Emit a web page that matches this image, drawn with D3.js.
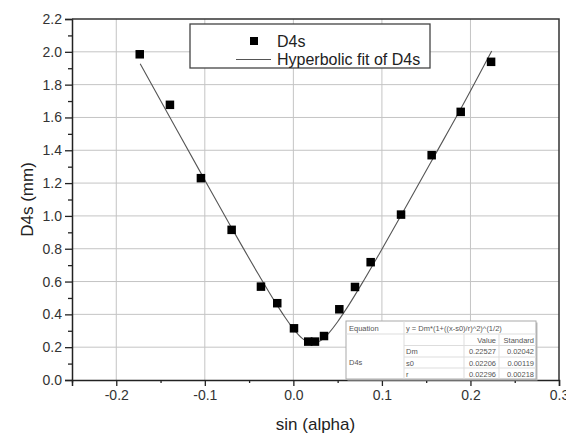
<!DOCTYPE html>
<html>
<head>
<meta charset="utf-8">
<script src="https://cdn.jsdelivr.net/npm/d3@7"></script>
<style>
  body { margin: 0; background: #fff; }
  svg { display: block; font-family: "Liberation Sans", Arial, sans-serif; }
</style>
</head>
<body>
<svg id="chart"></svg>
<script>
var sinAlpha = [-0.1735, -0.1394, -0.1044, -0.0697, -0.0366, -0.0182, 0.0007, 0.0168, 0.0244,
                0.0346, 0.0519, 0.0696, 0.0873, 0.1216, 0.1562, 0.1890, 0.2233];
var d4s = [1.985, 1.677, 1.230, 0.915, 0.569, 0.468, 0.315, 0.234, 0.234,
           0.268, 0.431, 0.567, 0.718, 1.008, 1.370, 1.634, 1.939];

// fit curve
var fitX = [-0.173, -0.14, -0.10, -0.07, -0.04, -0.02, -0.01, 0.0, 0.01, 0.02, 0.03,
            0.04, 0.05, 0.06, 0.08, 0.10, 0.13, 0.16, 0.19, 0.224];
var fitY = [1.927, 1.606, 1.218, 0.930, 0.649, 0.470, 0.387, 0.312, 0.254, 0.226, 0.238,
            0.286, 0.355, 0.435, 0.611, 0.797, 1.083, 1.372, 1.662, 2.005];

var xTicks = [-0.2, -0.1, 0.0, 0.1, 0.2, 0.3];
var yTicks = [0.0, 0.2, 0.4, 0.6, 0.8, 1.0, 1.2, 1.4, 1.6, 1.8, 2.0, 2.2];

var legendLabels = ["D4s", "Hyperbolic fit of D4s"];
var equationText = "y = Dm*(1+((x-s0)/r)^2)^(1/2)";
var paramNames = ["Dm", "s0", "r"];
var paramValues = ["0.22527", "0.02206", "0.02296"];
var paramErrors = ["0.02042", "0.00119", "0.00218"];

(function () {
  var W = 566, H = 433;
  var margin = {top: 19, right: 7, bottom: 53, left: 72};
  var width = W - margin.left - margin.right,
      height = H - margin.top - margin.bottom;

  var svg = d3.select("#chart").attr("width", W).attr("height", H);
  var g = svg.append("g").attr("transform", "translate(" + margin.left + "," + margin.top + ")");

  var x = d3.scaleLinear().domain([-0.25, 0.3]).range([0, width]);
  var y = d3.scaleLinear().domain([0, 2.2]).range([height, 0]);

  // plain hyphen for negatives, like the original
  var fmt = function (d) { return d.toFixed(1); };

  // grid
  g.append("g").selectAll("line")
    .data(xTicks.filter(function (d) { return d < 0.3; }))
    .enter().append("line")
    .attr("x1", function (d) { return x(d); }).attr("x2", function (d) { return x(d); })
    .attr("y1", 0).attr("y2", height)
    .style("stroke", "#c4c4c4").style("stroke-width", 1);
  g.append("g").selectAll("line")
    .data(yTicks.filter(function (d) { return d > 0 && d < 2.2; }))
    .enter().append("line")
    .attr("y1", function (d) { return y(d); }).attr("y2", function (d) { return y(d); })
    .attr("x1", 0).attr("x2", width)
    .style("stroke", "#c4c4c4").style("stroke-width", 1);

  // minor ticks
  var xMinor = d3.range(-0.25, 0.3001, 0.1).map(function (d) { return +d.toFixed(2); });
  var yMinor = d3.range(0.1, 2.2, 0.2).map(function (d) { return +d.toFixed(1); });

  g.append("g")
    .attr("transform", "translate(0," + height + ")")
    .call(d3.axisBottom(x).tickValues(xTicks).tickFormat(fmt).tickSize(6).tickPadding(4));
  g.append("g")
    .attr("transform", "translate(0," + height + ")")
    .call(d3.axisBottom(x).tickValues(xMinor).tickFormat("").tickSize(3))
    .select(".domain").remove();

  g.append("g")
    .call(d3.axisLeft(y).tickValues(yTicks).tickFormat(fmt).tickSize(7).tickPadding(3));
  g.append("g")
    .call(d3.axisLeft(y).tickValues(yMinor).tickFormat("").tickSize(4))
    .select(".domain").remove();

  g.selectAll(".tick line").style("stroke", "#222").style("stroke-width", 1.3);
  g.selectAll(".domain").style("stroke", "#222").style("stroke-width", 1.5);
  g.selectAll(".tick text").style("font-size", "14px").style("fill", "#333");

  // top and right frame
  g.append("path")
    .attr("d", "M0,0H" + width + "V" + height)
    .style("fill", "none").style("stroke", "#333").style("stroke-width", 1.5);

  // fit curve
  var line = d3.line()
    .curve(d3.curveMonotoneX)
    .x(function (d) { return x(d[0]); })
    .y(function (d) { return y(d[1]); });
  g.append("path")
    .datum(d3.zip(fitX, fitY))
    .attr("d", line)
    .style("fill", "none").style("stroke", "#555").style("stroke-width", 1.1);

  // data points
  var s = 8.5;
  g.selectAll(".pt")
    .data(d3.zip(sinAlpha, d4s))
    .enter().append("rect")
    .attr("class", "pt")
    .attr("x", function (d) { return x(d[0]) - s / 2; })
    .attr("y", function (d) { return y(d[1]) - s / 2; })
    .attr("width", s).attr("height", s)
    .style("fill", "#000");

  // axis titles
  svg.append("text")
    .attr("transform", "translate(33," + (margin.top + height / 2) + ") rotate(-90)")
    .style("text-anchor", "middle").style("font-size", "17px").style("fill", "#222")
    .text("D4s (mm)");
  svg.append("text")
    .attr("x", margin.left + width / 2).attr("y", 430)
    .style("text-anchor", "middle").style("font-size", "17px").style("fill", "#222")
    .text("sin (alpha)");

  // legend
  var lg = svg.append("g");
  lg.append("rect")
    .attr("x", 190).attr("y", 24).attr("width", 240).attr("height", 44)
    .style("fill", "#fff").style("stroke", "#444").style("stroke-width", 1.3);
  lg.append("rect").attr("x", 250).attr("y", 37).attr("width", 8).attr("height", 8).style("fill", "#000");
  lg.append("line").attr("x1", 236).attr("x2", 271).attr("y1", 59.5).attr("y2", 59.5)
    .style("stroke", "#555").style("stroke-width", 1.1);
  lg.selectAll(".lt").data(legendLabels).enter().append("text")
    .attr("x", 277).attr("y", function (d, i) { return 47 + i * 18; })
    .style("font-size", "16px").style("fill", "#222")
    .text(function (d) { return d; });

  // equation table
  var tx = 346, ty = 321, tw = 190, th = 58;
  var tb = svg.append("g").style("font-size", "7.5px").style("fill", "#555");
  tb.append("rect").attr("x", tx + 1.5).attr("y", ty + 1.5).attr("width", tw).attr("height", th)
    .style("fill", "#bbb");
  tb.append("rect").attr("x", tx).attr("y", ty).attr("width", tw).attr("height", th)
    .style("fill", "#fff").style("stroke", "#aaa").style("stroke-width", 1);
  var rows = [ty, ty + 13, ty + 24.5, ty + 36, ty + 47, ty + th];
  var c1 = tx + 58, c2 = tx + 118, c3 = tx + 153;
  var hl = [[tx, rows[1]], [c1, rows[2]], [c1, rows[3]], [c1, rows[4]]];
  hl.forEach(function (h) {
    tb.append("line").attr("x1", h[0]).attr("x2", tx + tw).attr("y1", h[1]).attr("y2", h[1])
      .style("stroke", "#ddd");
  });
  [c1, c2, c3].forEach(function (c, i) {
    tb.append("line").attr("x1", c).attr("x2", c).attr("y1", i === 0 ? ty : rows[1]).attr("y2", ty + th)
      .style("stroke", "#ddd");
  });
  tb.append("text").attr("x", tx + 3).attr("y", ty + 9.5).text("Equation");
  tb.append("text").attr("x", c1 + 2).attr("y", ty + 9.5).text(equationText);
  tb.append("text").attr("x", c3 - 3).attr("y", rows[1] + 8.5).style("text-anchor", "end").text("Value");
  tb.append("text").attr("x", tx + tw - 2).attr("y", rows[1] + 8.5).style("text-anchor", "end").text("Standard");
  tb.append("text").attr("x", tx + 3).attr("y", rows[3] + 8).text("D4s");
  paramNames.forEach(function (p, i) {
    var yy = rows[i + 2] + 8.5;
    tb.append("text").attr("x", c1 + 2).attr("y", yy).text(p);
    tb.append("text").attr("x", c3 - 3).attr("y", yy).style("text-anchor", "end").text(paramValues[i]);
    tb.append("text").attr("x", tx + tw - 2).attr("y", yy).style("text-anchor", "end").text(paramErrors[i]);
  });
})();
</script>
</body>
</html>
